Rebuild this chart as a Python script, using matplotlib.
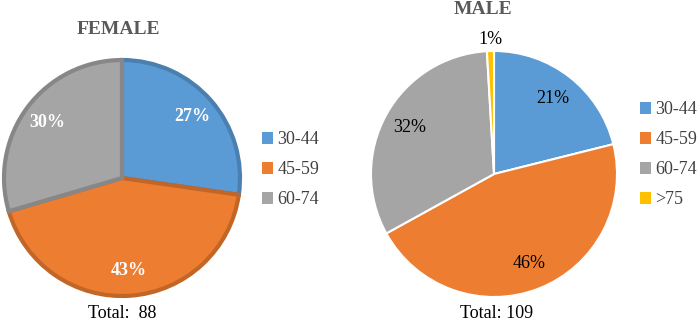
import matplotlib
matplotlib.use("Agg")
import matplotlib.pyplot as plt
import matplotlib.colors as mcolors
import numpy as np

plt.rcParams['font.family'] = ['Liberation Serif', 'DejaVu Serif']

# counts per age group
female_groups = ["30-44", "45-59", "60-74"]
female_counts = [24, 38, 26]
male_groups = ["30-44", "45-59", "60-74", ">75"]
male_counts = [23, 50, 35, 1]

colors = ["#5b9bd5", "#ed7d31", "#a5a5a5", "#ffc000"]

fig = plt.figure(figsize=(6.99, 3.24), dpi=100)
ax = fig.add_axes([0, 0, 1, 1])

def darker(c, f=0.82):
    r, g, b = mcolors.to_rgb(c)
    return (r * f, g * f, b * f)

# female pie
fw, _, ft = ax.pie(female_counts, colors=colors[:3], startangle=90, counterclock=False,
                   center=(122, 146), radius=118, autopct="%.0f%%", pctdistance=0.79,
                   textprops=dict(color="white", fontsize=13, fontweight="bold"),
                   wedgeprops=dict(linewidth=3))
for w in fw:
    w.set_edgecolor(darker(w.get_facecolor()))

# male pie
mw, _, mt = ax.pie(male_counts, colors=colors, startangle=90, counterclock=False,
                   center=(494, 150), radius=123, autopct="%.0f%%", pctdistance=0.78,
                   textprops=dict(color="black", fontsize=13),
                   wedgeprops=dict(linewidth=1.5, edgecolor="white"))
# tiny slice label sits outside
w = mw[3]
ang = np.deg2rad((w.theta1 + w.theta2) / 2)
mt[3].set_position((494 + 1.09 * 123 * np.cos(ang), 150 + 1.09 * 123 * np.sin(ang)))

# pie() resets the limits, so set them afterwards (pixel-like coords)
ax.set_xlim(0, 699)
ax.set_ylim(0, 324)
ax.set_aspect("equal")
ax.axis("off")

ax.text(118, 294, "FEMALE", ha="center", va="center", fontsize=14, fontweight="bold", color="#595959")
ax.text(483, 314, "MALE", ha="center", va="center", fontsize=14, fontweight="bold", color="#595959")
ax.text(122, 11, "Total:  88", ha="center", va="center", fontsize=13)
ax.text(497, 11, "Total: 109", ha="center", va="center", fontsize=13)

legprop = dict(family="Liberation Serif", size=13)
leg1 = ax.legend(fw, female_groups, loc="center left", bbox_to_anchor=(262, 154),
                 bbox_transform=ax.transData, frameon=False, prop=legprop,
                 handlelength=0.6, handleheight=0.6, handletextpad=0.25,
                 labelspacing=0.72, borderpad=0, borderaxespad=0, labelcolor="#404040")
for h in leg1.legend_handles:
    h.set_edgecolor("none")
ax.add_artist(leg1)
leg2 = ax.legend(mw, male_groups, loc="center left", bbox_to_anchor=(640, 169),
                 bbox_transform=ax.transData, frameon=False, prop=legprop,
                 handlelength=0.6, handleheight=0.6, handletextpad=0.25,
                 labelspacing=0.72, borderpad=0, borderaxespad=0, labelcolor="#404040")
for h in leg2.legend_handles:
    h.set_edgecolor("none")

fig.savefig("out.png", dpi=100)
